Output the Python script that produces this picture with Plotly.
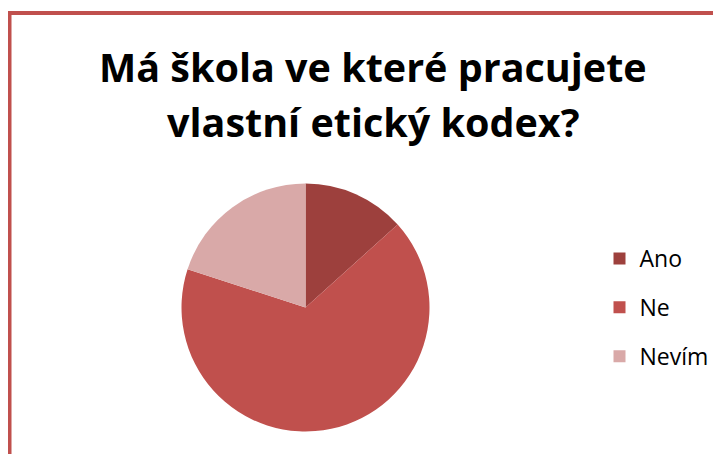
import plotly.graph_objects as go

labels = ["Ano", "Ne", "Nevím"]
values = [2, 10, 3]
colors = ["#9D403D", "#C0504D", "#D9A9A8"]
title_lines = ["Má škola ve které pracujete", "vlastní etický kodex?"]

W, H = 721, 454
OFF = 8  # page body margin offset


def fx(px):
    return (px - OFF) / W


def fy(py):
    return 1 - (py - OFF) / H


fig = go.Figure()
fig.add_trace(go.Pie(
    labels=labels, values=values, sort=False, direction="clockwise", rotation=0,
    marker=dict(colors=colors, line=dict(width=0)),
    textinfo="none", hoverinfo="label+percent", showlegend=False,
    domain=dict(x=[fx(181.5), fx(429.5)], y=[fy(431.5), fy(183.5)]),
))
for lab, col in zip(labels, colors):
    fig.add_trace(go.Scatter(
        x=[None], y=[None], mode="markers", name=lab, legendgroup=lab,
        marker=dict(symbol="square", size=14, color=col),
    ))

title_y = [67, 122]
annotations = [
    dict(text=t, x=fx(373), y=fy(yy), xref="paper", yref="paper",
         xanchor="center", yanchor="middle", showarrow=False,
         font=dict(family="Open Sans", size=39.5, color="black", weight="bold"))
    for t, yy in zip(title_lines, title_y)
]

fig.update_layout(
    width=W, height=H,
    margin=dict(l=0, r=0, t=0, b=0),
    paper_bgcolor="white", plot_bgcolor="white",
    xaxis=dict(visible=False), yaxis=dict(visible=False),
    annotations=annotations,
    legend=dict(
        x=fx(599.5), y=fy(237), xanchor="left", yanchor="top",
        font=dict(family="Open Sans", size=23, color="black"),
        tracegroupgap=16, itemsizing="constant", bgcolor="rgba(0,0,0,0)",
    ),
    shapes=[dict(
        type="rect", xref="paper", yref="paper",
        x0=fx(9.5), x1=1.05, y0=-0.05, y1=fy(13),
        line=dict(color="#C0504D", width=4), layer="above",
    )],
)

fig.write_html("out.html")
